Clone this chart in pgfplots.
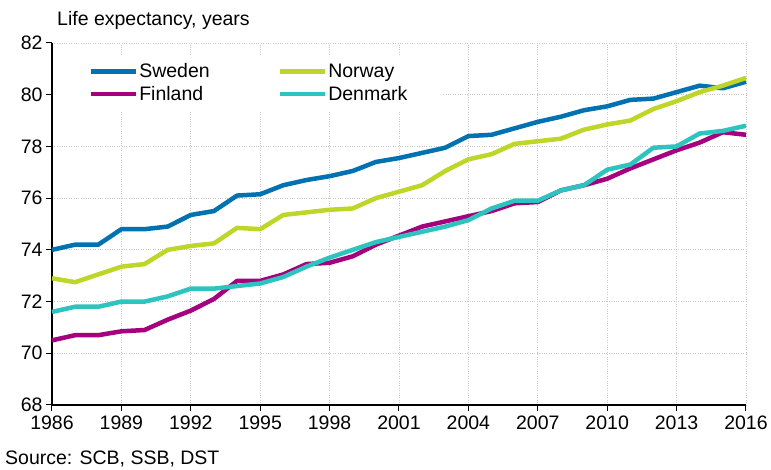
\documentclass[border=0pt]{standalone}
\usepackage{fontspec}
\setmainfont{Liberation Sans}
\usepackage{pgfplots}
\pgfplotsset{compat=1.18}
\definecolor{cSwe}{RGB}{0,114,178}
\definecolor{cNor}{RGB}{190,214,40}
\definecolor{cFin}{RGB}{165,0,125}
\definecolor{cDen}{RGB}{45,196,192}
\definecolor{gridc}{RGB}{200,200,200}
\begin{document}
\begin{tikzpicture}
\begin{axis}[
  scale only axis, width=694pt, height=362pt,
  xmin=1986, xmax=2016, ymin=68, ymax=82,
  xtick={1986,1989,...,2016}, ytick={68,70,...,82},
  axis lines*=left,
  axis line style={black, line width=1.3pt},
  tick align=outside, major tick length=6pt,
  tick style={black, line width=1pt},
  grid=major,
  major grid style={gridc, dotted, line width=0.9pt},
  /pgf/number format/assume math mode=true,
  /pgf/number format/1000 sep={},
  ticklabel style={font=\fontsize{19.5}{22}\selectfont},
  xticklabel style={yshift=-1pt},
  clip=false,
  legend columns=2,
  legend cell align=left,
  legend style={draw=none, fill=white, at={(rel axis cs:0.003,0.967)}, anchor=north west,
    inner xsep=34pt, inner ysep=7pt, font=\fontsize{19.5}{22}\selectfont,
    nodes={inner sep=1.5pt}, row sep=4pt,
    /tikz/every even column/.append style={column sep=66pt}},
  legend image code/.code={\draw[#1, line width=4.5pt] (0pt,0pt) -- (45pt,0pt);},
  every axis plot/.append style={line width=4.5pt, line join=round},
]
\addplot[cSwe] coordinates {
(1986,74.0)(1987,74.2)(1988,74.2)(1989,74.8)(1990,74.8)(1991,74.9)(1992,75.35)(1993,75.5)(1994,76.1)(1995,76.15)
(1996,76.5)(1997,76.7)(1998,76.85)(1999,77.05)(2000,77.4)(2001,77.55)(2002,77.75)(2003,77.95)(2004,78.4)(2005,78.45)
(2006,78.7)(2007,78.95)(2008,79.15)(2009,79.4)(2010,79.55)(2011,79.8)(2012,79.85)(2013,80.1)(2014,80.35)(2015,80.25)(2016,80.5)};
\addlegendentry{Sweden}
\addplot[cNor] coordinates {
(1986,72.9)(1987,72.75)(1988,73.05)(1989,73.35)(1990,73.45)(1991,74.0)(1992,74.15)(1993,74.25)(1994,74.85)(1995,74.8)
(1996,75.35)(1997,75.45)(1998,75.55)(1999,75.6)(2000,76.0)(2001,76.25)(2002,76.5)(2003,77.05)(2004,77.5)(2005,77.7)
(2006,78.1)(2007,78.2)(2008,78.3)(2009,78.65)(2010,78.85)(2011,79.0)(2012,79.45)(2013,79.75)(2014,80.1)(2015,80.35)(2016,80.65)};
\addlegendentry{Norway}
\addplot[cFin] coordinates {
(1986,70.5)(1987,70.7)(1988,70.7)(1989,70.85)(1990,70.9)(1991,71.3)(1992,71.65)(1993,72.1)(1994,72.8)(1995,72.8)
(1996,73.05)(1997,73.45)(1998,73.5)(1999,73.75)(2000,74.2)(2001,74.55)(2002,74.9)(2003,75.1)(2004,75.3)(2005,75.5)
(2006,75.8)(2007,75.85)(2008,76.3)(2009,76.5)(2010,76.75)(2011,77.15)(2012,77.5)(2013,77.85)(2014,78.15)(2015,78.55)(2016,78.45)};
\addlegendentry{Finland}
\addplot[cDen] coordinates {
(1986,71.6)(1987,71.8)(1988,71.8)(1989,72.0)(1990,72.0)(1991,72.2)(1992,72.5)(1993,72.5)(1994,72.6)(1995,72.7)
(1996,72.95)(1997,73.35)(1998,73.7)(1999,74.0)(2000,74.3)(2001,74.5)(2002,74.7)(2003,74.9)(2004,75.15)(2005,75.6)
(2006,75.9)(2007,75.9)(2008,76.3)(2009,76.5)(2010,77.1)(2011,77.3)(2012,77.95)(2013,78.0)(2014,78.5)(2015,78.6)(2016,78.8)};
\addlegendentry{Denmark}
\end{axis}
\node[anchor=base west, inner sep=0pt, font=\fontsize{19.5}{22}\selectfont] at (5pt,379pt) {Life expectancy, years};
\node[anchor=base west, inner sep=0pt, font=\fontsize{19.5}{22}\selectfont] at (-47pt,-60pt) {Source: SCB, SSB, DST};
\pgfresetboundingbox
\path[use as bounding box] (-52pt,-65pt) rectangle (719pt,405pt);
\end{tikzpicture}
\end{document}
